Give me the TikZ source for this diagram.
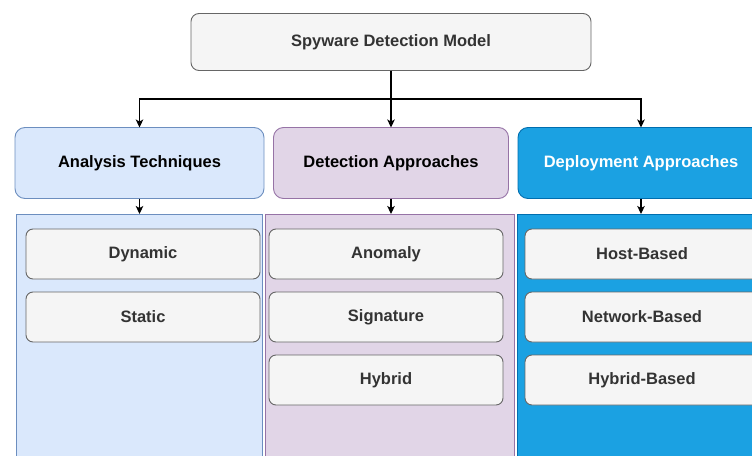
\documentclass[tikz,border=0pt]{standalone}
\usepackage{fontspec}
\setmainfont{Liberation Sans}
\usetikzlibrary{positioning,arrows.meta}

\definecolor{greyfill}{HTML}{F5F5F5}
\definecolor{greyline}{HTML}{666666}
\definecolor{txtgrey}{HTML}{333333}
\definecolor{bluefill}{HTML}{DAE8FC}
\definecolor{blueline}{HTML}{6C8EBF}
\definecolor{purplefill}{HTML}{E1D5E7}
\definecolor{purpleline}{HTML}{9673A6}
\definecolor{deepfill}{HTML}{1BA1E2}
\definecolor{deepline}{HTML}{006EAF}

\tikzset{
  label font/.style={font=\bfseries\fontsize{16.5}{20}\selectfont},
  greybox/.style={draw=greyline, fill=greyfill, text=txtgrey, line width=0.9pt,
    inner sep=0pt, outer sep=0pt, label font},
  item/.style={greybox, rounded corners=7pt, minimum width=234pt, minimum height=50pt},
  head/.style={rounded corners=10pt, line width=0.9pt, inner sep=0pt, outer sep=0pt,
    minimum height=71pt, label font},
  column/.style={line width=0.9pt, inner sep=0pt, outer sep=0pt, anchor=north,
    minimum height=260pt},
  arr/.style={-{Stealth[length=8pt,width=7.5pt,inset=2pt]}, line width=1.1pt}
}

\begin{document}
\begin{tikzpicture}[x=1pt, y=-1pt]

    % --- page frame ---
    \path[use as bounding box] (0,0) rectangle (752,455);
    \clip (0,0) rectangle (752,455);

    % --- Top of the tree ---
    \node[greybox, rounded corners=8pt, minimum width=400pt, minimum height=57pt]
        (model) at (391,42) {Spyware Detection Model};

    % --- Columns (drawn first, behind) ---
    \node[column, draw=blueline, fill=bluefill, minimum width=246pt] (acol) at (139.5,214) {};
    \node[column, draw=purpleline, fill=purplefill, minimum width=249pt] (dcol) at (390,214) {};
    \node[column, draw=deepline, fill=deepfill, minimum width=248pt] (pcol) at (641,214) {};

    % --- Headers ---
    \node[head, draw=blueline, fill=bluefill, minimum width=249pt] (analysis) at (139.5,163) {Analysis Techniques};
    \node[head, draw=purpleline, fill=purplefill, minimum width=235pt] (detection) at (391,163) {Detection Approaches};
    \node[head, draw=deepline, fill=deepfill, text=white, minimum width=246pt] (deployment) at (641,163) {Deployment Approaches};

    % --- Items ---
    \node[item] (dynamic) at (143,254) {Dynamic};
    \node[item, below=13pt of dynamic] (static) {Static};

    \node[item] (anomaly) at (386,254) {Anomaly};
    \node[item, below=13pt of anomaly] (signature) {Signature};
    \node[item, below=13pt of signature] (hybrid) {Hybrid};

    \node[item] (host) at (642,254) {Host-Based};
    \node[item, below=13pt of host] (network) {Network-Based};
    \node[item, below=13pt of network] (hybridbased) {Hybrid-Based};

    % --- Connectors ---
    \coordinate (split) at (391,99);
    \draw[arr] (model.south) -- (detection.north);
    \draw[arr] (split) -| (analysis.north);
    \draw[arr] (split) -| (deployment.north);

    \draw[arr] (analysis.south) -- (analysis.south |- acol.north);
    \draw[arr] (detection.south) -- (detection.south |- dcol.north);
    \draw[arr] (deployment.south) -- (deployment.south |- pcol.north);

\end{tikzpicture}
\end{document}
